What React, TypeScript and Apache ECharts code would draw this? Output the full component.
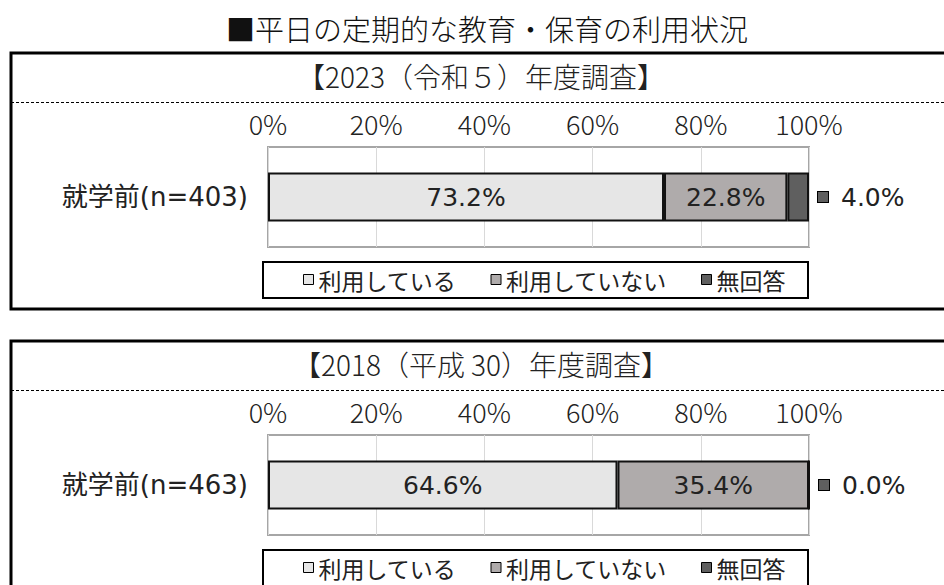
import React, { useEffect, useRef } from 'react';
import * as echarts from 'echarts';

const mainTitle = '■平日の定期的な教育・保育の利用状況';
const header2023 = '【2023（令和５）年度調査】';
const header2018 = '【2018（平成 30）年度調査】';
const category2023 = ['就学前(n=403)'];
const category2018 = ['就学前(n=463)'];
const seriesNames = ['利用している', '利用していない', '無回答'];
const using2023 = [73.2];
const notUsing2023 = [22.8];
const noAnswer2023 = [4.0];
const using2018 = [64.6];
const notUsing2018 = [35.4];
const noAnswer2018 = [0.0];

const colors = ['#e6e6e6', '#afabab', '#5f5f5f'];
const narrowFont = "'Liberation Sans Narrow', 'Noto Sans CJK JP', sans-serif";
const labelFont = "'DejaVu Sans', 'Noto Sans CJK JP', sans-serif";
const cjkFont = "'Noto Sans CJK JP', sans-serif";

function buildOption() {
  const pct = (p: any) => Number(p.value).toFixed(1) + '%';
  const panels = [
    { top: 53, cats: category2023, data: [using2023, notUsing2023, noAnswer2023], header: header2023 },
    { top: 341, cats: category2018, data: [using2018, notUsing2018, noAnswer2018], header: header2018 },
  ];
  const grids: any[] = [];
  const xAxes: any[] = [];
  const yAxes: any[] = [];
  const series: any[] = [];
  const legends: any[] = [];
  const graphics: any[] = [];
  panels.forEach((pn, i) => {
    const t = pn.top;
    grids.push({
      left: 268, width: 541, top: t + 94, height: 100,
      show: true, borderColor: '#a6a6a6', borderWidth: 2, backgroundColor: 'transparent',
      containLabel: false,
    });
    xAxes.push({
      type: 'value', gridIndex: i, position: 'top', min: 0, max: 100, interval: 20,
      axisLine: { show: false }, axisTick: { show: false },
      splitLine: { show: true, lineStyle: { color: '#d9d9d9', width: 1 } },
      axisLabel: { formatter: '{value}%', fontSize: 27, fontWeight: 300, fontFamily: narrowFont, color: '#222', margin: 10 },
    });
    yAxes.push({
      type: 'category', gridIndex: i, data: pn.cats,
      axisLine: { show: false }, axisTick: { show: false },
      axisLabel: { fontSize: 26, fontFamily: labelFont, color: '#222', margin: 20 },
    });
    pn.data.forEach((arr, k) => {
      const s: any = {
        name: seriesNames[k], type: 'bar', stack: 'p' + i, xAxisIndex: i, yAxisIndex: i,
        data: arr, barWidth: 49,
        itemStyle: { color: colors[k], borderColor: '#111', borderWidth: 2 },
        label: {
          show: true, position: 'inside', formatter: pct,
          fontSize: 25, fontFamily: labelFont, color: '#222',
        },
      };
      if (k === 2) {
        s.label = {
          show: true, position: 'right', distance: 9,
          formatter: (p: any) => '{m|}{v|' + pct(p) + '}',
          rich: {
            m: { width: 10, height: 10, backgroundColor: colors[2], borderColor: '#000', borderWidth: 1 },
            v: { fontSize: 25, fontFamily: labelFont, color: '#222', padding: [0, 0, 0, 13] },
          },
        };
      }
      series.push(s);
    });
    legends.push({
      data: seriesNames, left: 303, top: t + 215, padding: 0, itemGap: 34,
      itemWidth: 10, itemHeight: 10, icon: 'rect',
      itemStyle: { borderColor: '#000', borderWidth: 1 },
      textStyle: { fontSize: 23, fontFamily: cjkFont, color: '#222' },
      selectedMode: false,
    });
    graphics.push(
      { type: 'rect', shape: { x: 11, y: t, width: 945, height: 256 }, style: { fill: 'none', stroke: '#000', lineWidth: 3 } },
      { type: 'line', shape: { x1: 11, y1: t + 49.5, x2: 944, y2: t + 49.5 }, style: { stroke: '#000', lineWidth: 1, lineDash: [3, 2] } },
      { type: 'rect', shape: { x: 263, y: t + 209, width: 545, height: 36 }, style: { fill: 'none', stroke: '#000', lineWidth: 2 } },
      { type: 'text', x: 481, y: t + 23, style: { text: pn.header, align: 'center', verticalAlign: 'middle', fontSize: 28, fontWeight: 300, fontFamily: narrowFont, fill: '#222' } },
    );
  });
  return {
    animation: false,
    backgroundColor: '#fff',
    title: {
      text: mainTitle, left: 226, top: 13, padding: 0,
      textStyle: { fontSize: 29, fontWeight: 300, fontFamily: cjkFont, color: '#111' },
    },
    grid: grids, xAxis: xAxes, yAxis: yAxes, series, legend: legends, graphic: graphics,
  };
}

export default function App() {
  const ref = useRef<HTMLDivElement>(null);
  useEffect(() => {
    const chart = echarts.init(ref.current!, null, { renderer: 'svg' });
    chart.setOption(buildOption() as any);
    return () => chart.dispose();
  }, []);
  return <div ref={ref} style={{ position: 'fixed', left: 0, top: 0, width: 944, height: 585, background: '#fff' }} />;
}
